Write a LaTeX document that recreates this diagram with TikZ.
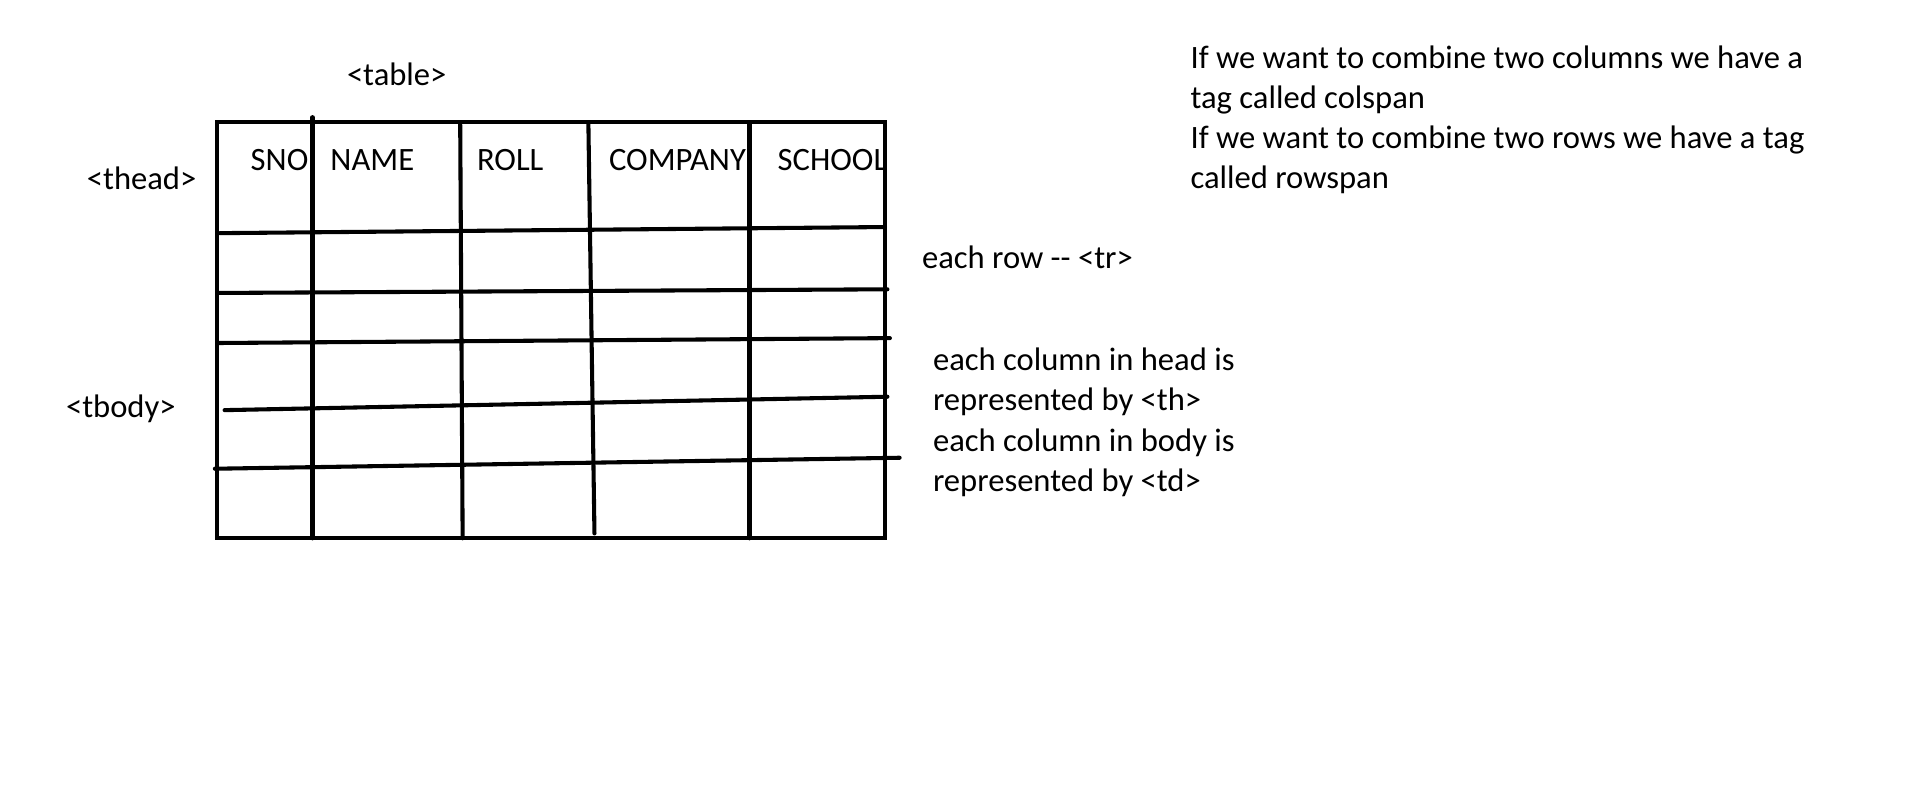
\documentclass[tikz,border=0pt]{standalone}
\usepackage{fontspec}
\setmainfont{Carlito}
\usepackage{tikz}
\usetikzlibrary{calc}
\tikzstyle{pen} = [line width=1.9pt, line cap=round, black]
\tikzstyle{note} = [inner sep=0pt, anchor=west, align=left, font=\fontsize{15.2}{18.7}\selectfont]
\tikzstyle{colhead} = [inner sep=0pt, font=\fontsize{15.2}{18}\selectfont]

\begin{document}
\begin{tikzpicture}[x=0.02cm, y=-0.02cm]
	\useasboundingbox (0,0) rectangle (1568,652);

	% table frame
	\draw[pen] (178,100) rectangle (725,441);
	% columns
	\draw[pen] (256,96) -- (256,441);
	\draw[pen] (377,100) -- (379,441);
	\draw[pen] (482,100) -- (487,437);
	\draw[pen] (614,100) -- (614,441);
	% rows
	\draw[pen] (180,191) -- (725,186);
	\draw[pen] (178,240) -- (727,237);
	\draw[pen] (178,281) -- (729,277);
	\draw[pen] (184,336) -- (727,325);
	\draw[pen] (176,384) -- (737,375);

	% column headings
	\node[colhead] (sno) at (229,131) {SNO};
	\node[colhead] (name) at (305,131) {NAME};
	\node[colhead] (roll) at (418,131) {ROLL};
	\node[colhead] (company) at (555,131) {COMPANY};
	\node[colhead] (school) at (682,131) {SCHOOL};

	% tags
	\node[colhead] (table) at (325,61) {<table>};
	\node[colhead] (thead) at (116,146) {<thead>};
	\node[colhead] (tbody) at (99,335) {<tbody>};

	% notes
	\node[note] (row) at (755,211) {each row -{}- <tr>};
	\node[note] (cols) at (764,346) {each column in head is\\represented by <th>\\each column in body is\\represented by <td>};
	\node[note] (span) at (975,98) {If we want to combine two columns we have a\\tag called colspan\\If we want to combine two rows we have a tag\\called rowspan};
\end{tikzpicture}
\end{document}
